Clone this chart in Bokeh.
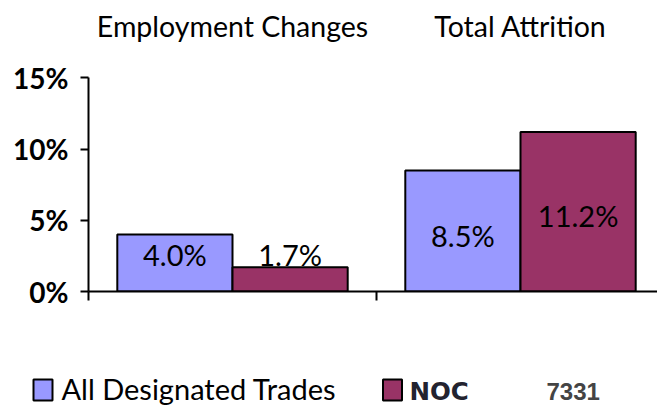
import numpy as np
from bokeh.plotting import figure
from bokeh.layouts import column
from bokeh.models import (Range1d, FixedTicker, PrintfTickFormatter, ColumnDataSource,
                          CustomJSTickFormatter)
from bokeh.core.properties import value
from bokeh.embed import file_html
from bokeh.resources import INLINE

# ---- data ----
groups = ["Employment Changes", "Total Attrition"]
series_names = ["All Designated Trades", "NOC"]
all_trades = [4.0, 8.5]
noc = [1.7, 11.2]
noc_code = "7331"
y_ticks = [0, 5, 10, 15]
colors = ["#9999FF", "#993366"]

# ---- layout constants ----
W = 657
H1 = 330          # main chart canvas height
H2 = 405 - H1     # legend strip height
LEFT, BOTTOM = 88, 39
PX_PER_UNIT_Y = 14.25
PX_PER_GROUP = 288
frame_w = W - LEFT
frame_h = H1 - BOTTOM

p = figure(width=W, height=H1, output_backend="svg", toolbar_location=None,
           x_range=Range1d(0, frame_w / PX_PER_GROUP),
           y_range=Range1d(0, frame_h / PX_PER_UNIT_Y),
           min_border_left=LEFT, min_border_right=0, min_border_top=0,
           min_border_bottom=BOTTOM)
p.frame_align = False
p.outline_line_color = None
p.grid.visible = False
p.background_fill_color = "white"
p.border_fill_color = "white"

# y axis
ya = p.yaxis[0]
ya.bounds = (0, 15)
ya.ticker = FixedTicker(ticks=y_ticks)
ya.formatter = PrintfTickFormatter(format="%d%%")
ya.axis_line_width = 2
ya.major_tick_line_width = 2
ya.major_tick_out = 8
ya.major_tick_in = 0
ya.minor_tick_line_color = None
ya.major_label_text_font = "Lato"
ya.major_label_text_font_style = "bold"
ya.major_label_text_font_size = "28px"
ya.major_label_standoff = 12
ya.major_label_text_color = "black"

# x axis
xa = p.xaxis[0]
xa.ticker = FixedTicker(ticks=list(range(len(groups) + 1)))
xa.formatter = CustomJSTickFormatter(code="return ''")
xa.axis_line_width = 2
xa.major_tick_line_width = 2
xa.major_tick_out = 9
xa.major_tick_in = 0
xa.minor_tick_line_color = None

# bars
idx = np.arange(len(groups))
bw = 0.4
x1 = idx + 0.5 - bw / 2
x2 = idx + 0.5 + bw / 2
r1 = p.vbar(x=x1, top=all_trades, width=bw, bottom=0, fill_color=colors[0],
            line_color="black", line_width=2)
r2 = p.vbar(x=x2, top=noc, width=bw, bottom=0, fill_color=colors[1],
            line_color="black", line_width=2)

# value labels
vals = np.array(all_trades + noc)
xs = np.concatenate([x1, x2])
ys = np.maximum(vals / 2 - 0.3, 2.6)
src = ColumnDataSource(dict(x=xs, y=ys, t=[f"{v:.1f}%" for v in vals]))
p.text(x="x", y="y", text="t", source=src, text_align="center", text_baseline="middle",
       text_font=value("Lato"), text_font_size="29px", text_color="black")

# group titles
tsrc = ColumnDataSource(dict(x=idx + 0.5, y=[(frame_h - 25) / PX_PER_UNIT_Y] * len(groups), t=groups))
p.text(x="x", y="y", text="t", source=tsrc, text_align="center", text_baseline="middle",
       text_font=value("Lato"), text_font_size="28.5px", text_color="black")

# ---- legend strip (pixel coordinates, y up) ----
q = figure(width=W, height=H2, output_backend="svg", toolbar_location=None,
           x_range=Range1d(0, W), y_range=Range1d(0, H2),
           x_axis_location=None, y_axis_location=None,
           min_border_left=0, min_border_right=0, min_border_top=0, min_border_bottom=0)
q.frame_align = False
q.outline_line_color = None
q.grid.visible = False
q.background_fill_color = "white"
q.border_fill_color = "white"

def yy(canvas_y):
    return H2 - (canvas_y - H1)

sw_x = [42.5, 392]
sw_y = [yy(389.5), yy(389.5)]
q.rect(x=sw_x, y=sw_y, width=19, height=21, fill_color=colors, line_color="black", line_width=2)

q.text(x=[61], y=[yy(387.5)], text=[series_names[0]], text_baseline="middle",
       text_font=value("Lato"), text_font_size="29px", text_color="black")
q.text(x=[409], y=[yy(390.5)], text=[series_names[1]], text_baseline="middle",
       text_font=value("DejaVu Sans"), text_font_style="bold", text_font_size="24.5px",
       text_color="#23232f")
q.text(x=[546], y=[yy(390.5)], text=[noc_code], text_baseline="middle",
       text_font=value("Liberation Sans"), text_font_style="bold", text_font_size="24px",
       text_color="#444444")

layout = column(p, q, spacing=0)
open("out.html", "w").write(file_html(layout, INLINE))
